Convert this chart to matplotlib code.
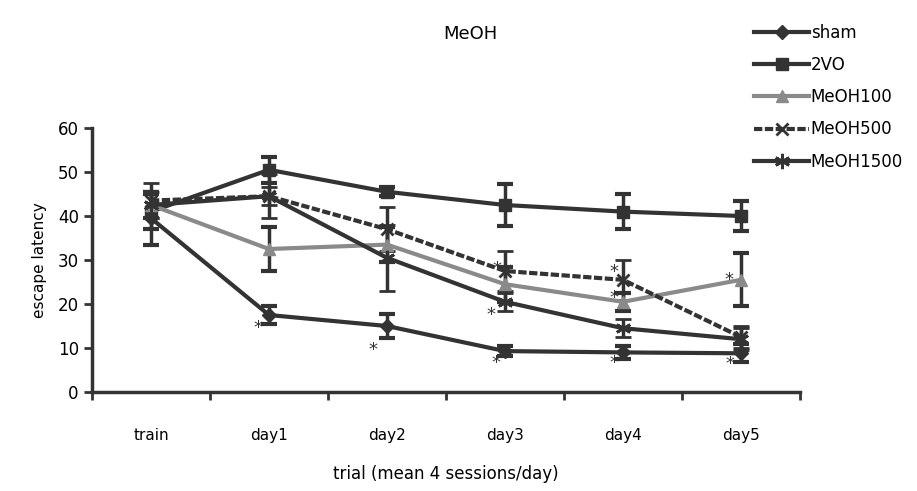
import matplotlib
matplotlib.use('Agg')
import matplotlib.pyplot as plt
from matplotlib.lines import Line2D
import numpy as np

# data
categories = ['train', 'day1', 'day2', 'day3', 'day4', 'day5']

sham = [39.5, 17.5, 15.0, 9.3, 9.0, 8.8]
sham_err = [6.0, 2.0, 2.8, 1.2, 1.5, 2.0]

vo2 = [41.0, 50.5, 45.5, 42.5, 41.0, 40.0]
vo2_err = [4.0, 3.0, 1.0, 4.7, 4.0, 3.5]

meoh100 = [42.5, 32.5, 33.5, 24.5, 20.5, 25.5]
meoh100_err = [3.0, 5.0, 4.0, 4.0, 2.0, 6.0]

meoh500 = [43.5, 44.5, 37.0, 27.5, 25.5, 12.5]
meoh500_err = [4.0, 2.0, 5.0, 4.5, 4.5, 2.5]

meoh1500 = [42.5, 44.5, 30.5, 20.5, 14.5, 12.0]
meoh1500_err = [3.0, 5.0, 7.5, 2.0, 2.0, 2.5]

# significance stars: (category index, value)
stars = [(0.91, 14.5), (1.88, 9.5), (2.92, 6.6), (2.88, 17.5), (2.93, 28.0),
         (3.92, 27.3), (3.92, 21.4), (3.92, 6.6), (4.9, 25.5), (4.91, 6.4)]

dark = '#333333'
grey = '#8a8a8a'

fig = plt.figure(figsize=(9.17, 4.91), dpi=100)
ax = fig.add_axes([0.1003, 0.2016, 0.772, 0.5377])

x = np.arange(len(categories))

series = [
    ('sham', sham, sham_err, dict(color=dark, marker='D', ms=7, ls='-')),
    ('2VO', vo2, vo2_err, dict(color=dark, marker='s', ms=9, ls='-')),
    ('MeOH100', meoh100, meoh100_err, dict(color=grey, marker='^', ms=8, ls='-')),
    ('MeOH500', meoh500, meoh500_err, dict(color=dark, marker='x', ms=9, mew=2, ls=(0, (2, 0.6)))),
    ('MeOH1500', meoh1500, meoh1500_err, dict(color=dark, marker=(6, 2, 0), ms=11, mew=2, ls='-')),
]

handles = []
for name, vals, err, style in series:
    ax.errorbar(x, vals, yerr=err, lw=3, elinewidth=2.5,
                capsize=6, capthick=3, ecolor=dark, **style)
    handles.append(Line2D([], [], lw=3, label=name, **style))

for sx, sy in stars:
    ax.text(sx, sy, '*', ha='center', va='center', fontsize=13, color=dark)

ax.set_xlim(-0.5, 5.5)
ax.set_ylim(0, 60)
ax.set_yticks(range(0, 61, 10))
ax.set_xticks(x)
ax.set_xticklabels(categories, fontsize=11)
ax.set_xticks(np.arange(-0.5, 6, 1), minor=True)
ax.tick_params(axis='x', which='major', length=0, pad=26)
ax.tick_params(axis='x', which='minor', length=6, width=2, direction='out', color=dark)
ax.tick_params(axis='y', length=6, width=2, direction='out', color=dark, labelsize=12)

for side in ['top', 'right']:
    ax.spines[side].set_visible(False)
for side in ['left', 'bottom']:
    ax.spines[side].set_linewidth(2.5)
    ax.spines[side].set_color(dark)

ax.set_ylabel('escape latency', fontsize=11, labelpad=8)
ax.set_xlabel('trial (mean 4 sessions/day)', fontsize=12, labelpad=16)
fig.text(0.513, 0.93, 'MeOH', ha='center', va='center', fontsize=13)

fig.legend(handles=handles, loc='upper left', bbox_to_anchor=(0.815, 0.965),
           frameon=False, fontsize=12, handlelength=3.3, handletextpad=0.1,
           labelspacing=0.85, borderaxespad=0)

plt.savefig('out.png', dpi=100)
plt.close()
